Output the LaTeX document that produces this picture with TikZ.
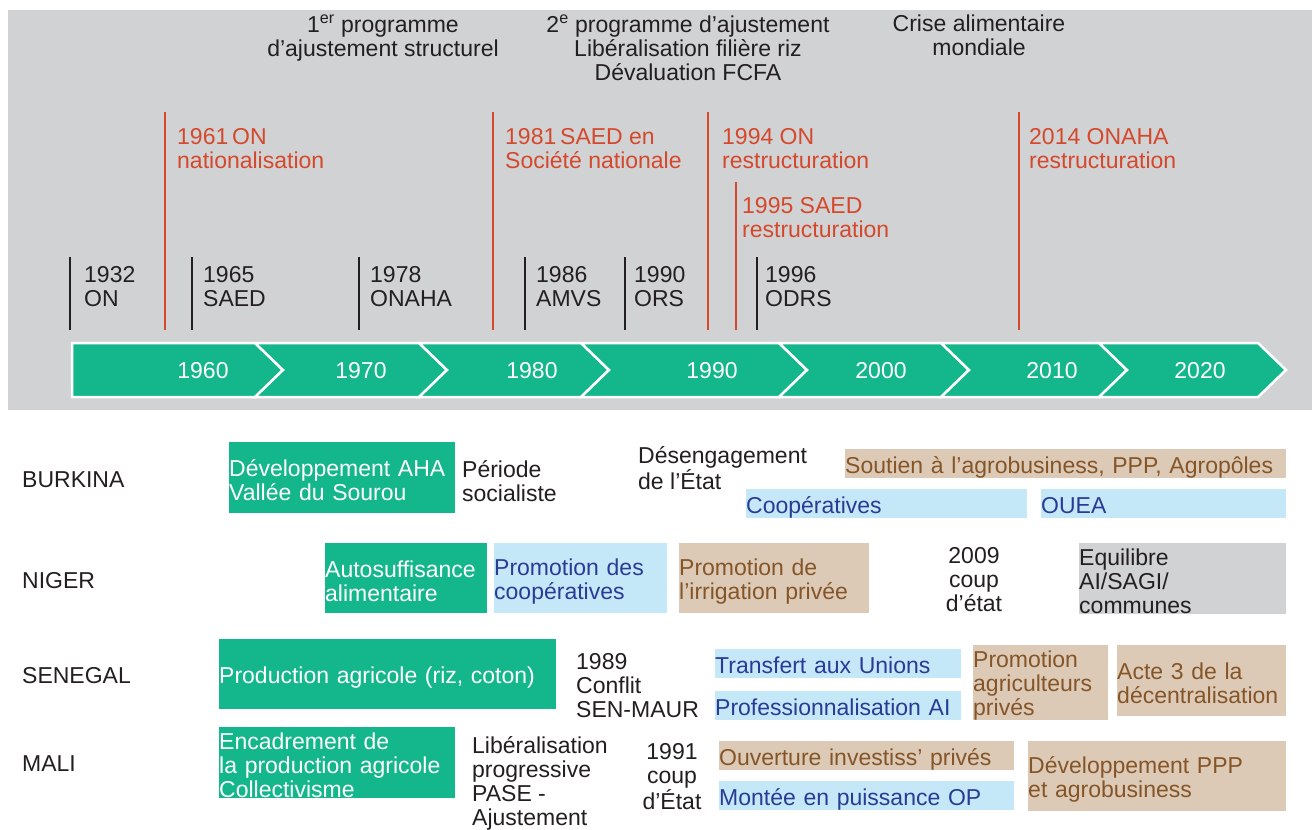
\documentclass[tikz,border=0pt]{standalone}
\usepackage{fontspec}
\setmainfont{Liberation Sans}
\usepackage{tikz}
\usetikzlibrary{arrows,shapes,arrows.meta}

\definecolor{frisegreen}{RGB}{20,182,140}
\definecolor{panelgray}{RGB}{209,210,212}
\definecolor{markred}{RGB}{213,72,43}
\definecolor{ink}{RGB}{35,31,32}
\definecolor{brownfill}{RGB}{220,202,183}
\definecolor{browntext}{RGB}{133,85,40}
\definecolor{bluefill}{RGB}{197,232,248}
\definecolor{bluetext}{RGB}{40,60,150}

\begin{document}
\begin{tikzpicture}[x=1pt,y=-1pt,
    font=\fontsize{23}{24}\selectfont,
    every node/.style={inner sep=0pt,text=ink},
    boxsize/.style 2 args={text width=#1pt,minimum height=#2pt,anchor=north west,align=left,
        execute at begin node={\rule{0pt}{22.5pt}}},
    threelines/.style={execute at begin node={\rule{0pt}{17pt}}},
    band/.style={text width=#1pt,text height=24pt,text depth=4.5pt,anchor=north west,align=left},
    greenbox/.style={fill=frisegreen,text=white},
    bluebox/.style={fill=bluefill,text=bluetext},
    brownbox/.style={fill=brownfill,text=browntext},
    graybox/.style={fill=panelgray,text=ink},
    redmark/.style={draw=markred,line width=2pt},
    blackmark/.style={draw=ink,line width=2.5pt}]

    \useasboundingbox (0,0) rectangle (1312,830);
    \fill[white] (0,0) rectangle (1312,830);
    \fill[panelgray] (8,10) rectangle (1312,410);

    % timeline arrow
    \filldraw[fill=frisegreen,draw=white,line width=2.5pt] (72,343) -- (255,343) -- (283,370) -- (255,397) -- (72,397) -- cycle;
    \foreach \a/\b in {255/419,419/581,581/779,779/941,941/1099,1099/1258}
        \filldraw[fill=frisegreen,draw=white,line width=2.5pt] (\a,343) -- (\b,343) -- ({\b+28},370) -- (\b,397) -- (\a,397) -- ({\a+28},370) -- cycle;
    \foreach \yr/\xc in {1960/203,1970/361,1980/532,1990/712,2000/881,2010/1052,2020/1200}
        \node[text=white] (y\yr) at (\xc,371) {\yr};

    % markers
    \foreach \xl/\yt in {164.5/112,493/112,708/112,736/182,1019/112}
        \draw[redmark] (\xl,\yt) -- (\xl,330);
    \foreach \xl in {70,192,359,525,625,757}
        \draw[blackmark] (\xl,257) -- (\xl,330);

    \begin{scope}[every node/.append style={anchor=north,align=center}]
        \node (prog1) at (383,15) {1\textsuperscript{er} programme\\d’ajustement structurel};
        \node (prog2) at (688,15) {2\textsuperscript{e} programme d’ajustement\\Libéralisation filière riz\\Dévaluation FCFA};
        \node (crise) at (979,15) {Crise alimentaire\\mondiale};
    \end{scope}

    \begin{scope}[every node/.append style={anchor=north west,align=left,text=markred}]
        \node (on61) at (177,128.5) {1961\,ON\\nationalisation};
        \node (saed81) at (505,128.5) {1981\,SAED en\\Société nationale};
        \node (on94) at (722,128.5) {1994 ON\\restructuration};
        \node (saed95) at (742,197.5) {1995 SAED\\restructuration};
        \node (onaha14) at (1029,128.5) {2014 ONAHA\\restructuration};
    \end{scope}

    \begin{scope}[every node/.append style={anchor=north west,align=left}]
        \node (on32) at (84,266.5) {1932\\ON};
        \node (saed65) at (203,266.5) {1965\\SAED};
        \node (onaha78) at (370,266.5) {1978\\ONAHA};
        \node (amvs86) at (536,266.5) {1986\\AMVS};
        \node (ors90) at (634,266.5) {1990\\ORS};
        \node (odrs96) at (765,266.5) {1996\\ODRS};
    \end{scope}

    % countries
    \begin{scope}[every node/.append style={anchor=west}]
        \node (burkina) at (22,480) {BURKINA};
        \node (niger) at (22,581) {NIGER};
        \node (senegal) at (22,676) {SENEGAL};
        \node (mali) at (22,764) {MALI};
    \end{scope}

    % BURKINA
    \node[greenbox,boxsize={226}{71}] (ahaBF) at (229,442) {Développement AHA\\Vallée du Sourou};
    \node[anchor=north west,align=left] (socBF) at (462,460.5) {Période\\socialiste};
    \node[anchor=north west,align=left] (desBF) at (638,446.5) {Désengagement\\de l’État};
    \node[brownbox,band=441] (agroBF) at (845,449) {Soutien à l’agrobusiness, PPP, Agropôles};
    \node[bluebox,band=281] (coopBF) at (746,489) {Coopératives};
    \node[bluebox,band=245] (oueaBF) at (1041,489) {OUEA};

    % NIGER
    \node[greenbox,boxsize={162}{70}] (autoNE) at (325,543) {Autosuffisance\\alimentaire};
    \node[bluebox,boxsize={173}{70}] (coopNE) at (494,543) {Promotion des\\coopératives};
    \node[brownbox,boxsize={190}{70}] (irrNE) at (679,543) {Promotion de\\l’irrigation privée};
    \node[anchor=north,align=center] (coupNE) at (974,547.5) {2009\\coup\\d’état};
    \node[graybox,boxsize={207}{70},threelines] (equiNE) at (1079,543) {Equilibre\\AI/SAGI/\\communes};

    % SENEGAL
    \node[greenbox,boxsize={337}{70}] (prodSN) at (219,639) {Production agricole (riz, coton)};
    \node[anchor=north west,align=left] (conflSN) at (576,653.5) {1989\\Conflit\\SEN-MAUR};
    \node[bluebox,band=246] (unionSN) at (715,649) {Transfert aux Unions};
    \node[bluebox,band=246] (profSN) at (715,691) {Professionnalisation AI};
    \node[brownbox,boxsize={135}{71},threelines] (agriSN) at (973,645) {Promotion\\agriculteurs\\privés};
    \node[brownbox,boxsize={169}{71}] (acteSN) at (1117,645) {Acte 3 de la\\décentralisation};

    % MALI
    \node[greenbox,boxsize={236}{71},threelines] (encML) at (219,727) {Encadrement de\\la production agricole\\Collectivisme};
    \node[anchor=north west,align=left] (libML) at (472,736.5) {Libéralisation\\progressive\\PASE -\\Ajustement};
    \node[anchor=north,align=center] (coupML) at (672,743.5) {1991\\coup\\d’État};
    \node[brownbox,band=295] (ouvML) at (719,741) {Ouverture investiss’ privés};
    \node[bluebox,band=295] (opML) at (719,781) {Montée en puissance OP};
    \node[brownbox,boxsize={258}{70}] (pppML) at (1028,741) {Développement PPP\\et agrobusiness};
\end{tikzpicture}
\end{document}
